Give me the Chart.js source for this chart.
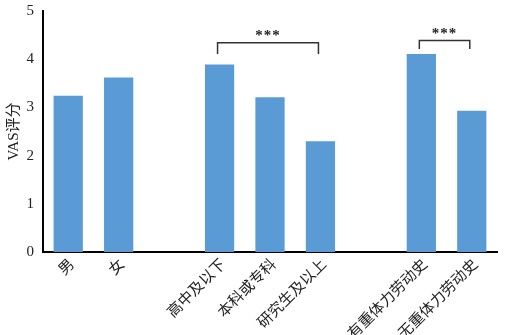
<!DOCTYPE html>
<html lang="zh">
<head>
    <meta charset="UTF-8">
    <title>VAS评分</title>
    <style>
        html, body { margin: 0; padding: 0; background: #fff; }
        #wrap { width: 505px; height: 335px; position: relative; }
    </style>
    <script src="https://cdn.jsdelivr.net/npm/chart.js"></script>
</head>
<body>
    <div id="wrap"><canvas id="vasChart" width="505" height="335"></canvas></div>
    <script>
        // categories ('' = gap between groups)
        const categories = ['男', '女', '', '高中及以下', '本科或专科', '研究生及以上', '', '有重体力劳动史', '无重体力劳动史'];
        const vasScores = [3.24, 3.62, null, 3.89, 3.21, 2.30, null, 4.11, 2.93];
        const yTicks = [0, 1, 2, 3, 4, 5];

        // significance brackets: from index, to index, top value, leg bottom value
        const sigFrom = [3, 7];
        const sigTo = [5, 8];
        const sigTop = [4.34, 4.39];
        const sigLeg = [4.11, 4.21];
        const sigText = ['***', '***'];

        const serif = "'Liberation Serif', 'Times New Roman', 'Noto Sans CJK SC', serif";

        const bracketPlugin = {
            id: 'brackets',
            afterDatasetsDraw(chart) {
                const ctx = chart.ctx;
                const x = chart.scales.x, y = chart.scales.y;
                ctx.save();
                ctx.strokeStyle = '#333';
                ctx.lineWidth = 1.5;
                ctx.fillStyle = '#222';
                ctx.font = 'bold 15px ' + serif;
                ctx.textAlign = 'center';
                ctx.textBaseline = 'bottom';
                if ('letterSpacing' in ctx) ctx.letterSpacing = '1px';
                for (let i = 0; i < sigFrom.length; i++) {
                    const x1 = x.getPixelForValue(sigFrom[i]) - 2;
                    const x2 = x.getPixelForValue(sigTo[i]) - 2;
                    const yt = y.getPixelForValue(sigTop[i]);
                    const yl = y.getPixelForValue(sigLeg[i]);
                    ctx.beginPath();
                    ctx.moveTo(x1, yl);
                    ctx.lineTo(x1, yt);
                    ctx.lineTo(x2, yt);
                    ctx.lineTo(x2, yl);
                    ctx.stroke();
                    ctx.fillText(sigText[i], (x1 + x2) / 2, yt + 1);
                }
                ctx.restore();
            }
        };

        new Chart(document.getElementById('vasChart'), {
            type: 'bar',
            data: {
                labels: categories,
                datasets: [{
                    data: vasScores,
                    backgroundColor: '#5B9BD5',
                    borderWidth: 0,
                    barPercentage: 0.58,
                    categoryPercentage: 1.0
                }]
            },
            options: {
                responsive: false,
                animation: false,
                layout: { padding: { left: 0, right: 8, top: 11, bottom: 0 } },
                plugins: {
                    legend: { display: false },
                    tooltip: { enabled: false }
                },
                scales: {
                    x: {
                        grid: { display: false, drawTicks: false },
                        border: { color: '#000', width: 2 },
                        ticks: {
                            color: '#222',
                            font: { family: serif, size: 15 },
                            maxRotation: 45,
                            minRotation: 45,
                            padding: 4,
                            labelOffset: 4,
                            autoSkip: false
                        },
                        afterFit(scale) {
                            scale.height = 335 - 252;
                            scale.paddingLeft = 0;
                            scale.paddingRight = 0;
                        }
                    },
                    y: {
                        min: 0,
                        max: 5,
                        afterBuildTicks(scale) { scale.ticks = yTicks.map(v => ({ value: v })); },
                        grid: { display: false, drawTicks: false },
                        border: { color: '#000', width: 2 },
                        ticks: {
                            color: '#222',
                            font: { family: serif, size: 15 },
                            padding: 9
                        },
                        title: {
                            display: true,
                            text: 'VAS评分',
                            color: '#222',
                            font: { family: serif, size: 15 },
                            padding: { top: 5, bottom: 0 }
                        },
                        afterFit(scale) {
                            scale.width = 43;
                            scale.paddingTop = 0;
                            scale.paddingBottom = 0;
                        }
                    }
                }
            },
            plugins: [bracketPlugin]
        });
    </script>
</body>
</html>
